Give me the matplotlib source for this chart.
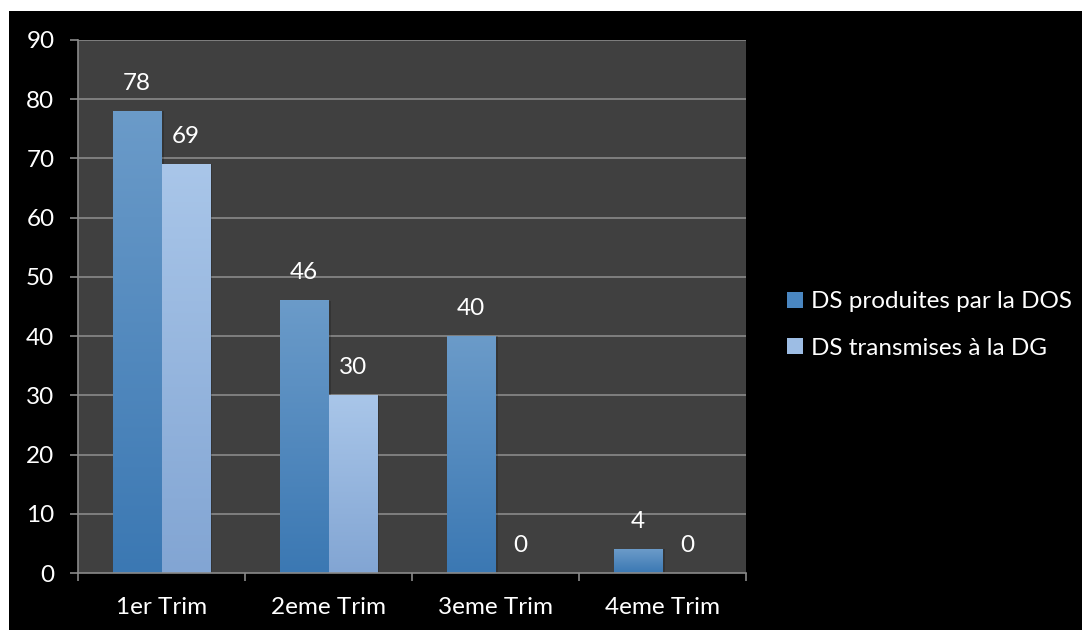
import matplotlib
matplotlib.use("Agg")
import matplotlib.pyplot as plt
import numpy as np
from matplotlib.patches import Rectangle
from matplotlib.colors import LinearSegmentedColormap

categories = ["1er Trim", "2eme Trim", "3eme Trim", "4eme Trim"]
series_names = ["DS produites par la DOS", "DS transmises à la DG"]
produites = [78, 46, 40, 4]
transmises = [69, 30, 0, 0]
yticks = [0, 10, 20, 30, 40, 50, 60, 70, 80, 90]

plt.rcParams['font.family'] = ['Lato', 'DejaVu Sans']
FS = 17.5

fig = plt.figure(figsize=(10.82, 6.30), dpi=100, facecolor='white')
# black chart area
fig.patches.append(Rectangle((9/1082, 0), 1 - 9/1082, 1 - 11/630, transform=fig.transFigure,
                             facecolor='black', edgecolor='none', zorder=-10))

ax = fig.add_axes([78/1082, 1 - 573/630, (746-78)/1082, (573-40)/630])
ax.set_facecolor('#404040')
ax.set_xlim(-0.5, len(categories) - 0.5)
ax.set_ylim(0, 90)

grid_c = '#8a8a8a'
for t in yticks[1:]:
    ax.axhline(t, color=grid_c, lw=1.2, zorder=1)

cm_dark = LinearSegmentedColormap.from_list('d', ['#3b78b3', '#6b9bc9'])
cm_light = LinearSegmentedColormap.from_list('l', ['#82a5d3', '#a9c6e9'])

bw = 0.293
x = np.arange(len(categories))
grad = np.linspace(0, 1, 256).reshape(-1, 1)

def draw_bars(xs, vals, cmap):
    for xc, v in zip(xs, vals):
        if v <= 0:
            continue
        x0 = xc - bw/2
        ax.add_patch(Rectangle((x0 + 0.012, 0), bw, v, facecolor='#000000', alpha=0.18,
                               edgecolor='none', zorder=2))
        ax.imshow(grad, cmap=cmap, origin='lower', extent=[x0, x0 + bw, 0, v], aspect='auto',
                  zorder=3, interpolation='bilinear')

def draw_labels(xs, vals):
    for xc, v in zip(xs, vals):
        ax.annotate(str(v), (xc, v), xytext=(0, 20), textcoords='offset points',
                    ha='center', va='center', color='white', fontsize=FS, zorder=5)

draw_bars(x - bw/2, produites, cm_dark)
draw_bars(x + bw/2, transmises, cm_light)
draw_labels(x - bw/2, produites)
draw_labels(x + bw/2, transmises)
ax.set_xlim(-0.5, len(categories) - 0.5)
ax.set_ylim(0, 90)

for s in ['top', 'right']:
    ax.spines[s].set_visible(False)
for s in ['left', 'bottom']:
    ax.spines[s].set_color(grid_c)
    ax.spines[s].set_linewidth(1.2)
    ax.spines[s].set_zorder(4)

ax.set_yticks(yticks)
ax.set_yticklabels([str(t) for t in yticks])
ax.tick_params(axis='y', colors=grid_c, labelcolor='white', labelsize=FS, length=6, width=1.2, pad=11)

ax.set_xticks(np.arange(len(categories) + 1) - 0.5)
ax.set_xticklabels([])
ax.set_xticks(x, minor=True)
ax.set_xticklabels(categories, minor=True)
ax.tick_params(axis='x', which='major', colors=grid_c, length=6, width=1.2)
ax.tick_params(axis='x', which='minor', length=0, labelcolor='white', labelsize=FS, pad=17)

handles = [Rectangle((0, 0), 1, 1, facecolor='#4a86c0', edgecolor='none'),
           Rectangle((0, 0), 1, 1, facecolor='#9dbde4', edgecolor='none')]
leg = fig.legend(handles, series_names, loc='center left', bbox_to_anchor=(787/1082, 1 - 325/630),
                 frameon=False, fontsize=FS, labelcolor='white', handlelength=0.65, handleheight=0.65,
                 handletextpad=0.35, labelspacing=1.05, borderpad=0, borderaxespad=0)

fig.savefig('out.png', dpi=100, facecolor='white')
